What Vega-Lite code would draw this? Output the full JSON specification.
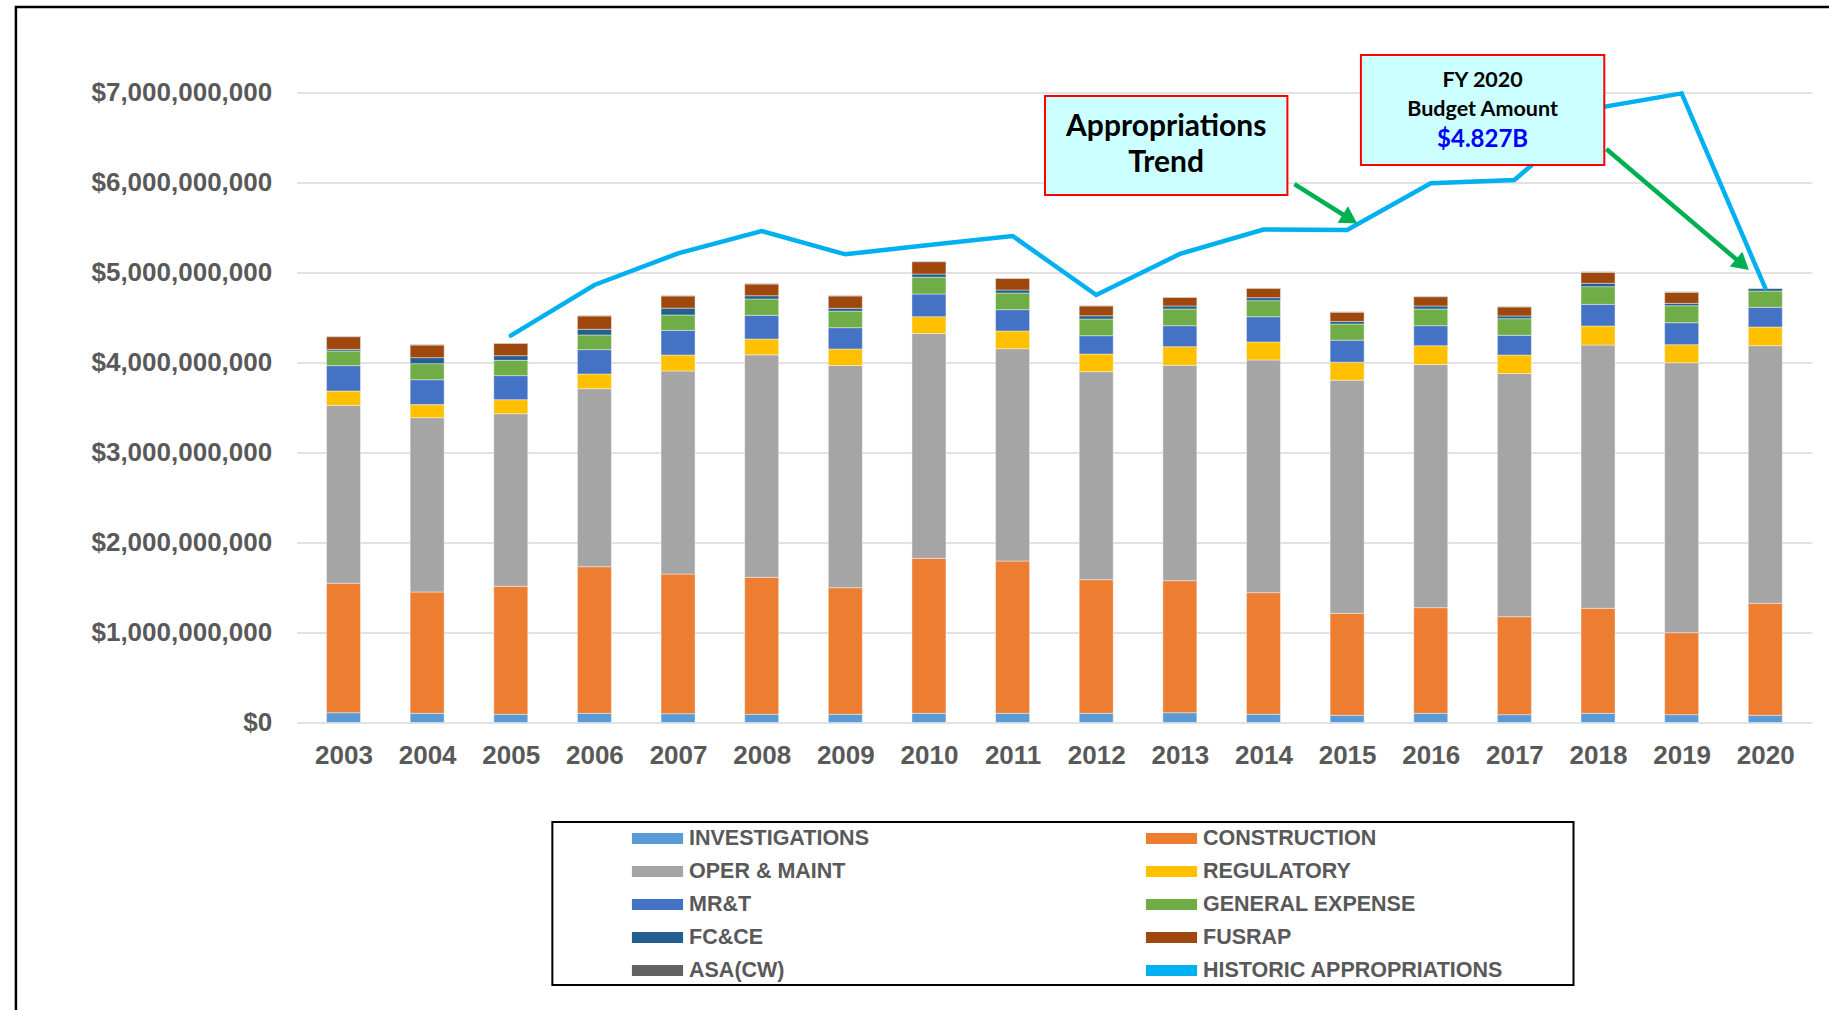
{
  "$schema": "https://vega.github.io/schema/vega-lite/v6.json",
  "width": 1515.4,
  "height": 630,
  "autosize": {"type": "none"},
  "padding": {"left": 296.7, "top": 92.5, "right": 16.9, "bottom": 287.5},
  "background": "#FFFFFF",
  "config": {
    "view": {"stroke": null},
    "axis": {"labelFont": "Liberation Sans", "labelFontWeight": "bold", "labelFontSize": 26, "labelColor": "#595959", "ticks": false, "domain": false, "title": null, "labelLimit": 0},
    "legend": {
      "orient": "none", "legendX": 344.3, "legendY": 729.5, "direction": "horizontal",
      "columns": 2, "columnPadding": 276, "rowPadding": 6, "padding": 0,
      "symbolType": "M-1.55,-0.34H1.55V0.34H-1.55Z", "symbolSize": 1089, "symbolStrokeWidth": 0,
      "labelFont": "Liberation Sans", "labelFontSize": 21.5, "labelFontWeight": "bold", "labelColor": "#595959",
      "labelOffset": 15, "labelLimit": 0, "title": null
    }
  },
  "datasets": {
    "budget": [
      {"year":2003,"category":"INVESTIGATIONS","amount":109000000},{"year":2003,"category":"CONSTRUCTION","amount":1438000000},{"year":2003,"category":"OPER & MAINT","amount":1977000000},{"year":2003,"category":"REGULATORY","amount":159000000},{"year":2003,"category":"MR&T","amount":282000000},{"year":2003,"category":"GENERAL EXPENSE","amount":163000000},{"year":2003,"category":"FC&CE","amount":18000000},{"year":2003,"category":"FUSRAP","amount":141000000},{"year":2003,"category":"ASA(CW)","amount":5000000},
      {"year":2004,"category":"INVESTIGATIONS","amount":102000000},{"year":2004,"category":"CONSTRUCTION","amount":1348000000},{"year":2004,"category":"OPER & MAINT","amount":1937000000},{"year":2004,"category":"REGULATORY","amount":145000000},{"year":2004,"category":"MR&T","amount":277000000},{"year":2004,"category":"GENERAL EXPENSE","amount":178000000},{"year":2004,"category":"FC&CE","amount":67000000},{"year":2004,"category":"FUSRAP","amount":140000000},{"year":2004,"category":"ASA(CW)","amount":5000000},
      {"year":2005,"category":"INVESTIGATIONS","amount":91000000},{"year":2005,"category":"CONSTRUCTION","amount":1422000000},{"year":2005,"category":"OPER & MAINT","amount":1918000000},{"year":2005,"category":"REGULATORY","amount":156000000},{"year":2005,"category":"MR&T","amount":267000000},{"year":2005,"category":"GENERAL EXPENSE","amount":170000000},{"year":2005,"category":"FC&CE","amount":52000000},{"year":2005,"category":"FUSRAP","amount":137000000},{"year":2005,"category":"ASA(CW)","amount":5000000},
      {"year":2006,"category":"INVESTIGATIONS","amount":102000000},{"year":2006,"category":"CONSTRUCTION","amount":1629000000},{"year":2006,"category":"OPER & MAINT","amount":1978000000},{"year":2006,"category":"REGULATORY","amount":163000000},{"year":2006,"category":"MR&T","amount":271000000},{"year":2006,"category":"GENERAL EXPENSE","amount":163000000},{"year":2006,"category":"FC&CE","amount":63000000},{"year":2006,"category":"FUSRAP","amount":148000000},{"year":2006,"category":"ASA(CW)","amount":5000000},
      {"year":2007,"category":"INVESTIGATIONS","amount":98000000},{"year":2007,"category":"CONSTRUCTION","amount":1552000000},{"year":2007,"category":"OPER & MAINT","amount":2256000000},{"year":2007,"category":"REGULATORY","amount":177000000},{"year":2007,"category":"MR&T","amount":274000000},{"year":2007,"category":"GENERAL EXPENSE","amount":171000000},{"year":2007,"category":"FC&CE","amount":76000000},{"year":2007,"category":"FUSRAP","amount":135000000},{"year":2007,"category":"ASA(CW)","amount":5000000},
      {"year":2008,"category":"INVESTIGATIONS","amount":91000000},{"year":2008,"category":"CONSTRUCTION","amount":1522000000},{"year":2008,"category":"OPER & MAINT","amount":2472000000},{"year":2008,"category":"REGULATORY","amount":176000000},{"year":2008,"category":"MR&T","amount":263000000},{"year":2008,"category":"GENERAL EXPENSE","amount":182000000},{"year":2008,"category":"FC&CE","amount":36000000},{"year":2008,"category":"FUSRAP","amount":130000000},{"year":2008,"category":"ASA(CW)","amount":5000000},
      {"year":2009,"category":"INVESTIGATIONS","amount":91000000},{"year":2009,"category":"CONSTRUCTION","amount":1407000000},{"year":2009,"category":"OPER & MAINT","amount":2469000000},{"year":2009,"category":"REGULATORY","amount":183000000},{"year":2009,"category":"MR&T","amount":237000000},{"year":2009,"category":"GENERAL EXPENSE","amount":183000000},{"year":2009,"category":"FC&CE","amount":32000000},{"year":2009,"category":"FUSRAP","amount":137000000},{"year":2009,"category":"ASA(CW)","amount":5000000},
      {"year":2010,"category":"INVESTIGATIONS","amount":102000000},{"year":2010,"category":"CONSTRUCTION","amount":1722000000},{"year":2010,"category":"OPER & MAINT","amount":2498000000},{"year":2010,"category":"REGULATORY","amount":187000000},{"year":2010,"category":"MR&T","amount":252000000},{"year":2010,"category":"GENERAL EXPENSE","amount":186000000},{"year":2010,"category":"FC&CE","amount":36000000},{"year":2010,"category":"FUSRAP","amount":137000000},{"year":2010,"category":"ASA(CW)","amount":5000000},
      {"year":2011,"category":"INVESTIGATIONS","amount":102000000},{"year":2011,"category":"CONSTRUCTION","amount":1692000000},{"year":2011,"category":"OPER & MAINT","amount":2360000000},{"year":2011,"category":"REGULATORY","amount":196000000},{"year":2011,"category":"MR&T","amount":237000000},{"year":2011,"category":"GENERAL EXPENSE","amount":185000000},{"year":2011,"category":"FC&CE","amount":34000000},{"year":2011,"category":"FUSRAP","amount":129000000},{"year":2011,"category":"ASA(CW)","amount":5000000},
      {"year":2012,"category":"INVESTIGATIONS","amount":102000000},{"year":2012,"category":"CONSTRUCTION","amount":1485000000},{"year":2012,"category":"OPER & MAINT","amount":2311000000},{"year":2012,"category":"REGULATORY","amount":196000000},{"year":2012,"category":"MR&T","amount":204000000},{"year":2012,"category":"GENERAL EXPENSE","amount":185000000},{"year":2012,"category":"FC&CE","amount":36000000},{"year":2012,"category":"FUSRAP","amount":109000000},{"year":2012,"category":"ASA(CW)","amount":5000000},
      {"year":2013,"category":"INVESTIGATIONS","amount":109000000},{"year":2013,"category":"CONSTRUCTION","amount":1467000000},{"year":2013,"category":"OPER & MAINT","amount":2393000000},{"year":2013,"category":"REGULATORY","amount":207000000},{"year":2013,"category":"MR&T","amount":233000000},{"year":2013,"category":"GENERAL EXPENSE","amount":185000000},{"year":2013,"category":"FC&CE","amount":34000000},{"year":2013,"category":"FUSRAP","amount":96000000},{"year":2013,"category":"ASA(CW)","amount":5000000},
      {"year":2014,"category":"INVESTIGATIONS","amount":91000000},{"year":2014,"category":"CONSTRUCTION","amount":1352000000},{"year":2014,"category":"OPER & MAINT","amount":2585000000},{"year":2014,"category":"REGULATORY","amount":200000000},{"year":2014,"category":"MR&T","amount":281000000},{"year":2014,"category":"GENERAL EXPENSE","amount":178000000},{"year":2014,"category":"FC&CE","amount":33000000},{"year":2014,"category":"FUSRAP","amount":104000000},{"year":2014,"category":"ASA(CW)","amount":5000000},
      {"year":2015,"category":"INVESTIGATIONS","amount":80000000},{"year":2015,"category":"CONSTRUCTION","amount":1133000000},{"year":2015,"category":"OPER & MAINT","amount":2591000000},{"year":2015,"category":"REGULATORY","amount":200000000},{"year":2015,"category":"MR&T","amount":244000000},{"year":2015,"category":"GENERAL EXPENSE","amount":180000000},{"year":2015,"category":"FC&CE","amount":28000000},{"year":2015,"category":"FUSRAP","amount":103000000},{"year":2015,"category":"ASA(CW)","amount":5000000},
      {"year":2016,"category":"INVESTIGATIONS","amount":102000000},{"year":2016,"category":"CONSTRUCTION","amount":1174000000},{"year":2016,"category":"OPER & MAINT","amount":2702000000},{"year":2016,"category":"REGULATORY","amount":209000000},{"year":2016,"category":"MR&T","amount":222000000},{"year":2016,"category":"GENERAL EXPENSE","amount":185000000},{"year":2016,"category":"FC&CE","amount":34000000},{"year":2016,"category":"FUSRAP","amount":103000000},{"year":2016,"category":"ASA(CW)","amount":5000000},
      {"year":2017,"category":"INVESTIGATIONS","amount":87000000},{"year":2017,"category":"CONSTRUCTION","amount":1089000000},{"year":2017,"category":"OPER & MAINT","amount":2702000000},{"year":2017,"category":"REGULATORY","amount":205000000},{"year":2017,"category":"MR&T","amount":219000000},{"year":2017,"category":"GENERAL EXPENSE","amount":185000000},{"year":2017,"category":"FC&CE","amount":30000000},{"year":2017,"category":"FUSRAP","amount":100000000},{"year":2017,"category":"ASA(CW)","amount":5000000},
      {"year":2018,"category":"INVESTIGATIONS","amount":102000000},{"year":2018,"category":"CONSTRUCTION","amount":1167000000},{"year":2018,"category":"OPER & MAINT","amount":2925000000},{"year":2018,"category":"REGULATORY","amount":212000000},{"year":2018,"category":"MR&T","amount":240000000},{"year":2018,"category":"GENERAL EXPENSE","amount":197000000},{"year":2018,"category":"FC&CE","amount":37000000},{"year":2018,"category":"FUSRAP","amount":122000000},{"year":2018,"category":"ASA(CW)","amount":5000000},
      {"year":2019,"category":"INVESTIGATIONS","amount":87000000},{"year":2019,"category":"CONSTRUCTION","amount":911000000},{"year":2019,"category":"OPER & MAINT","amount":3000000000},{"year":2019,"category":"REGULATORY","amount":200000000},{"year":2019,"category":"MR&T","amount":244000000},{"year":2019,"category":"GENERAL EXPENSE","amount":189000000},{"year":2019,"category":"FC&CE","amount":26000000},{"year":2019,"category":"FUSRAP","amount":123000000},{"year":2019,"category":"ASA(CW)","amount":5000000},
      {"year":2020,"category":"INVESTIGATIONS","amount":80000000},{"year":2020,"category":"CONSTRUCTION","amount":1244000000},{"year":2020,"category":"OPER & MAINT","amount":2863000000},{"year":2020,"category":"REGULATORY","amount":207000000},{"year":2020,"category":"MR&T","amount":219000000},{"year":2020,"category":"GENERAL EXPENSE","amount":181000000},{"year":2020,"category":"FC&CE","amount":28000000},{"year":2020,"category":"FUSRAP","amount":0},{"year":2020,"category":"ASA(CW)","amount":5000000}
    ],
    "approp": [
      {"year":2005,"category":"HISTORIC APPROPRIATIONS","amount":4298000000},
      {"year":2006,"category":"HISTORIC APPROPRIATIONS","amount":4861000000},
      {"year":2007,"category":"HISTORIC APPROPRIATIONS","amount":5213000000},
      {"year":2008,"category":"HISTORIC APPROPRIATIONS","amount":5461000000},
      {"year":2009,"category":"HISTORIC APPROPRIATIONS","amount":5202000000},
      {"year":2010,"category":"HISTORIC APPROPRIATIONS","amount":5306000000},
      {"year":2011,"category":"HISTORIC APPROPRIATIONS","amount":5406000000},
      {"year":2012,"category":"HISTORIC APPROPRIATIONS","amount":4750000000},
      {"year":2013,"category":"HISTORIC APPROPRIATIONS","amount":5206000000},
      {"year":2014,"category":"HISTORIC APPROPRIATIONS","amount":5478000000},
      {"year":2015,"category":"HISTORIC APPROPRIATIONS","amount":5472000000},
      {"year":2016,"category":"HISTORIC APPROPRIATIONS","amount":5991000000},
      {"year":2017,"category":"HISTORIC APPROPRIATIONS","amount":6028000000},
      {"year":2018,"category":"HISTORIC APPROPRIATIONS","amount":6830000000},
      {"year":2019,"category":"HISTORIC APPROPRIATIONS","amount":6990000000},
      {"year":2020,"category":"HISTORIC APPROPRIATIONS","amount":4827000000}
    ],
    "frame": [{"x0":1999.083,"x1":2020.9,"y0":7950000000,"y1":-3400000000}],
    "legendBox": [{"x0":2005.497,"x1":2017.707,"y0":-1105600000,"y1":-2916700000}],
    "boxes": [
      {"x0":2011.388,"x1":2014.286,"y0":6961000000,"y1":5861000000},
      {"x0":2015.165,"x1":2018.075,"y0":7417000000,"y1":6194000000}
    ],
    "arrows": [
      {"id":"trend","x0":2014.370,"y0":5983000000,"x1":2015.006,"y1":5611000000},
      {"id":"budget","x0":2018.099,"y0":6372000000,"x1":2019.702,"y1":5108000000}
    ],
    "notesLarge": [
      {"x":2012.837,"y":6620000000,"label":"Appropriations"},
      {"x":2012.837,"y":6213000000,"label":"Trend"}
    ],
    "notesSmall": [
      {"x":2016.620,"y":7128000000,"label":"FY 2020"},
      {"x":2016.620,"y":6806000000,"label":"Budget Amount"}
    ],
    "notesValue": [
      {"x":2016.620,"y":6472000000,"label":"$4.827B"}
    ]
  },
  "layer": [
    {
      "data": {"name": "budget"},
      "mark": {"type": "bar", "size": 34, "stroke": "#FFFFFF", "strokeWidth": 0.6, "strokeOpacity": 0.7},
      "encoding": {
        "x": {"field": "year", "type": "quantitative",
          "scale": {"domain": [2002.5, 2020.5], "nice": false, "zero": false},
          "axis": {"values": [2003,2004,2005,2006,2007,2008,2009,2010,2011,2012,2013,2014,2015,2016,2017,2018,2019,2020], "format": "d", "labelPadding": 20, "grid": false, "labelFlush": false}},
        "y": {"field": "amount", "type": "quantitative", "stack": "zero",
          "scale": {"domain": [0, 7000000000], "nice": false},
          "axis": {"values": [0,1000000000,2000000000,3000000000,4000000000,5000000000,6000000000,7000000000], "format": "$,.0f", "grid": true, "gridColor": "#D9D9D9", "gridWidth": 1.5, "labelPadding": 25}},
        "color": {"field": "category", "type": "nominal",
          "scale": {
            "domain": ["INVESTIGATIONS","CONSTRUCTION","OPER & MAINT","REGULATORY","MR&T","GENERAL EXPENSE","FC&CE","FUSRAP","ASA(CW)","HISTORIC APPROPRIATIONS"],
            "range": ["#5B9BD5","#ED7D31","#A5A5A5","#FFC000","#4472C4","#70AD47","#255E91","#9E480E","#636363","#00B0F0"]
          }},
        "order": {"field": "year", "type": "quantitative"}
      }
    },
    {
      "data": {"name": "frame"},
      "mark": {"type": "rect", "fill": null, "stroke": "#000000", "strokeWidth": 2.5, "clip": false},
      "encoding": {
        "x": {"field": "x0", "type": "quantitative"},
        "x2": {"field": "x1"},
        "y": {"field": "y0", "type": "quantitative"},
        "y2": {"field": "y1"}
      }
    },
    {
      "data": {"name": "approp"},
      "mark": {"type": "line", "strokeWidth": 4.5, "strokeCap": "round", "clip": false},
      "encoding": {
        "x": {"field": "year", "type": "quantitative"},
        "y": {"field": "amount", "type": "quantitative"},
        "color": {"field": "category", "type": "nominal"}
      }
    },
    {
      "data": {"name": "boxes"},
      "mark": {"type": "rect", "fill": "#CCFFFF", "stroke": "#FF0000", "strokeWidth": 2, "clip": false},
      "encoding": {
        "x": {"field": "x0", "type": "quantitative"},
        "x2": {"field": "x1"},
        "y": {"field": "y0", "type": "quantitative"},
        "y2": {"field": "y1"}
      }
    },
    {
      "data": {"name": "legendBox"},
      "mark": {"type": "rect", "fill": null, "stroke": "#000000", "strokeWidth": 2, "clip": false},
      "encoding": {
        "x": {"field": "x0", "type": "quantitative"},
        "x2": {"field": "x1"},
        "y": {"field": "y0", "type": "quantitative"},
        "y2": {"field": "y1"}
      }
    },
    {
      "data": {"name": "arrows"},
      "mark": {"type": "rule", "color": "#00B050", "strokeWidth": 4.5, "clip": false},
      "encoding": {
        "x": {"field": "x0", "type": "quantitative"},
        "x2": {"field": "x1"},
        "y": {"field": "y0", "type": "quantitative"},
        "y2": {"field": "y1"}
      }
    },
    {
      "data": {"name": "arrows"},
      "transform": [{"filter": "datum.id === 'trend'"}],
      "mark": {"type": "point", "shape": "triangle", "filled": true, "color": "#00B050", "opacity": 1, "size": 380, "angle": 121.9, "clip": false},
      "encoding": {
        "x": {"field": "x1", "type": "quantitative"},
        "y": {"field": "y1", "type": "quantitative"}
      }
    },
    {
      "data": {"name": "arrows"},
      "transform": [{"filter": "datum.id === 'budget'"}],
      "mark": {"type": "point", "shape": "triangle", "filled": true, "color": "#00B050", "opacity": 1, "size": 380, "angle": 130.2, "clip": false},
      "encoding": {
        "x": {"field": "x1", "type": "quantitative"},
        "y": {"field": "y1", "type": "quantitative"}
      }
    },
    {
      "data": {"name": "notesLarge"},
      "mark": {"type": "text", "font": "Lato", "fontWeight": "bold", "fontSize": 30, "color": "#000000", "align": "center", "baseline": "middle", "clip": false},
      "encoding": {
        "x": {"field": "x", "type": "quantitative"},
        "y": {"field": "y", "type": "quantitative"},
        "text": {"field": "label"}
      }
    },
    {
      "data": {"name": "notesSmall"},
      "mark": {"type": "text", "font": "Lato", "fontWeight": "bold", "fontSize": 21.5, "color": "#000000", "align": "center", "baseline": "middle", "clip": false},
      "encoding": {
        "x": {"field": "x", "type": "quantitative"},
        "y": {"field": "y", "type": "quantitative"},
        "text": {"field": "label"}
      }
    },
    {
      "data": {"name": "notesValue"},
      "mark": {"type": "text", "font": "Lato", "fontWeight": "bold", "fontSize": 24, "color": "#0000FF", "align": "center", "baseline": "middle", "clip": false},
      "encoding": {
        "x": {"field": "x", "type": "quantitative"},
        "y": {"field": "y", "type": "quantitative"},
        "text": {"field": "label"}
      }
    }
  ]
}
